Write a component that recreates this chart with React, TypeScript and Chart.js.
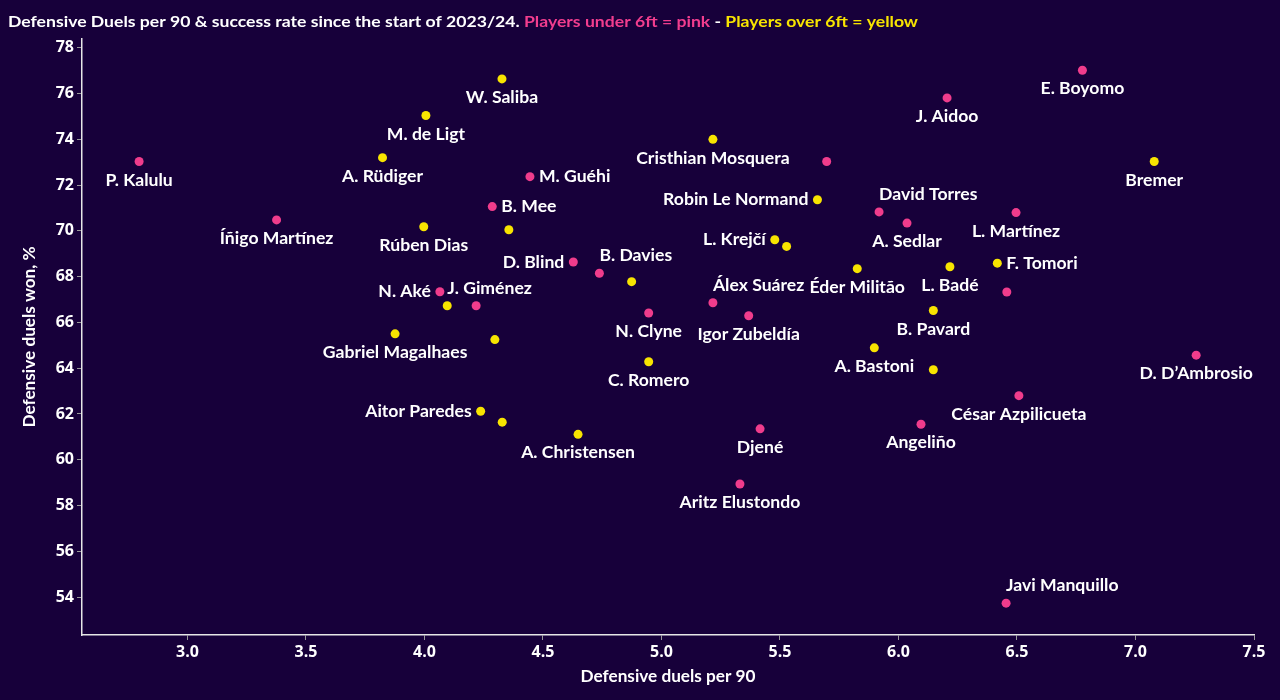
import React, { useEffect, useRef } from "react";
import { Chart, registerables } from "chart.js";

Chart.register(...registerables);

// ---- Data ----
const pinkNames = [
  "P. Kalulu", "Íñigo Martínez", "M. Guéhi", "B. Mee", "D. Blind", "B. Davies",
  "N. Aké", "", "N. Clyne", "Álex Suárez", "Igor Zubeldía", "",
  "David Torres", "A. Sedlar", "L. Martínez", "J. Aidoo", "E. Boyomo", "",
  "D. D’Ambrosio", "César Azpilicueta", "Angeliño", "Djené", "Aritz Elustondo", "Javi Manquillo",
];
const pinkDuels = [
  2.796, 3.376, 4.445, 4.286, 4.628, 4.738,
  4.065, 4.218, 4.946, 5.217, 5.368, 5.697,
  5.918, 6.036, 6.496, 6.205, 6.776, 6.457,
  7.256, 6.508, 6.095, 5.416, 5.331, 6.454,
];
const pinkWon = [
  73.03, 70.48, 72.37, 71.06, 68.64, 68.15,
  67.34, 66.73, 66.41, 66.86, 66.29, 73.03,
  70.83, 70.34, 70.8, 75.81, 77.02, 67.33,
  64.57, 62.8, 61.55, 61.35, 58.94, 53.73,
];
const pinkAnchor = [
  "b", "b", "r", "r", "l", "ar",
  "l", "", "b", "ar", "b", "",
  "ar", "b", "b", "b", "b", "",
  "b", "b", "b", "b", "b", "ar",
];

const yellowNames = [
  "W. Saliba", "M. de Ligt", "A. Rüdiger", "Rúben Dias", "", "J. Giménez",
  "Gabriel Magalhaes", "", "C. Romero", "Aitor Paredes", "", "A. Christensen",
  "Cristhian Mosquera", "Robin Le Normand", "L. Krejčí", "", "", "Éder Militão",
  "L. Badé", "F. Tomori", "Bremer", "B. Pavard", "A. Bastoni", "",
];
const yellowDuels = [
  4.327, 4.006, 3.823, 3.997, 4.356, 4.096,
  3.876, 4.297, 4.946, 4.237, 4.328, 4.648,
  5.217, 5.658, 5.478, 5.528, 4.874, 5.826,
  6.217, 6.417, 7.079, 6.147, 5.898, 6.147,
];
const yellowWon = [
  76.64, 75.04, 73.2, 70.18, 70.05, 66.73,
  65.5, 65.25, 64.28, 62.12, 61.64, 61.11,
  74.0, 71.36, 69.61, 69.32, 67.78, 68.35,
  68.43, 68.59, 73.03, 66.52, 64.89, 63.93,
];
const yellowAnchor = [
  "b", "b", "b", "b", "", "ar",
  "b", "", "b", "l", "", "b",
  "b", "l", "l", "", "", "b",
  "b", "r", "b", "b", "b", "",
];

const titleParts = [
  { text: "Defensive Duels per 90 & success rate since the start of 2023/24. ", color: "#ffffff" },
  { text: "Players under 6ft = pink", color: "#f23d8e" },
  { text: " - ", color: "#ffffff" },
  { text: "Players over 6ft = yellow", color: "#f8e400" },
];
const xAxisTitle = "Defensive duels per 90";
const yAxisTitle = "Defensive duels won, %";

const BG = "#17003a";
const PINK = "#f03c8c";
const YELLOW = "#f8e400";
const FONT = "Lato, 'Open Sans', sans-serif";
const TITLE_WIDTH = 910;

const labelPlugin = {
  id: "pointLabels",
  afterDatasetsDraw(chart: any) {
    const ctx = chart.ctx;
    ctx.save();
    ctx.font = `bold 17.6px ${FONT}`;
    ctx.fillStyle = "#ffffff";
    ctx.textBaseline = "middle";
    chart.data.datasets.forEach((ds: any, di: number) => {
      const meta = chart.getDatasetMeta(di);
      meta.data.forEach((el: any, i: number) => {
        const name = ds.names[i];
        const a = ds.anchors[i];
        if (!name || !a) return;
        const { x, y } = el.getProps(["x", "y"], true);
        if (a === "b") {
          ctx.textAlign = "center";
          ctx.fillText(name, x, y + 18.5);
        } else if (a === "ar") {
          ctx.textAlign = "left";
          ctx.fillText(name, x, y - 17.5);
        } else if (a === "r") {
          ctx.textAlign = "left";
          ctx.fillText(name, x + 9, y);
        } else if (a === "l") {
          ctx.textAlign = "right";
          ctx.fillText(name, x - 9, y);
        }
      });
    });
    ctx.restore();
  },
};

const decorPlugin = {
  id: "decor",
  beforeDraw(chart: any) {
    const ctx = chart.ctx;
    ctx.save();
    ctx.fillStyle = BG;
    ctx.fillRect(0, 0, chart.width, chart.height);
    ctx.restore();
  },
  afterDraw(chart: any) {
    const ctx = chart.ctx;
    const area = chart.chartArea;
    ctx.save();
    // title, stretched horizontally to the reference width
    ctx.font = `bold 15.5px ${FONT}`;
    ctx.textBaseline = "alphabetic";
    ctx.textAlign = "left";
    const total = titleParts.reduce((s, p) => s + ctx.measureText(p.text).width, 0);
    ctx.save();
    ctx.translate(8, 26.5);
    ctx.scale(TITLE_WIDTH / total, 1);
    let x = 0;
    titleParts.forEach((p) => {
      ctx.fillStyle = p.color;
      ctx.fillText(p.text, x, 0);
      x += ctx.measureText(p.text).width;
    });
    ctx.restore();
    // axis titles
    ctx.fillStyle = "#ffffff";
    ctx.font = `bold 17.2px ${FONT}`;
    ctx.textAlign = "center";
    ctx.textBaseline = "middle";
    ctx.fillText(xAxisTitle, (area.left + area.right) / 2, 676);
    ctx.translate(29, (area.top + area.bottom) / 2);
    ctx.rotate(-Math.PI / 2);
    ctx.fillText(yAxisTitle, 0, 0);
    ctx.restore();
  },
};

export default function App() {
  const ref = useRef<HTMLCanvasElement | null>(null);
  useEffect(() => {
    document.body.style.margin = "0";
    document.body.style.background = BG;
    const canvas = ref.current!;
    const chart = new Chart(canvas, {
      type: "scatter",
      data: {
        datasets: [
          {
            label: "Under 6ft",
            data: pinkDuels.map((v, i) => ({ x: v, y: pinkWon[i] })),
            backgroundColor: PINK,
            borderWidth: 0,
            pointRadius: 4.5,
            pointHoverRadius: 4.5,
            names: pinkNames,
            anchors: pinkAnchor,
          } as any,
          {
            label: "Over 6ft",
            data: yellowDuels.map((v, i) => ({ x: v, y: yellowWon[i] })),
            backgroundColor: YELLOW,
            borderWidth: 0,
            pointRadius: 4.5,
            pointHoverRadius: 4.5,
            names: yellowNames,
            anchors: yellowAnchor,
          } as any,
        ],
      },
      options: {
        responsive: false,
        animation: false,
        devicePixelRatio: 1,
        layout: { padding: { top: 39, right: 26, left: 0, bottom: 0 } },
        plugins: {
          legend: { display: false },
          tooltip: { enabled: false },
          title: { display: false },
        },
        scales: {
          x: {
            type: "linear",
            min: 2.555,
            max: 7.5,
            afterFit: (s: any) => { s.height = 65; },
            border: { display: true, color: "#e6e6e6", width: 1.5 },
            grid: { display: true, drawOnChartArea: false, drawTicks: true, tickLength: 5, color: "#9a9a9a" },
            ticks: {
              stepSize: 0.5,
              includeBounds: false,
              color: "#ffffff",
              font: { family: "'Open Sans', Lato, sans-serif", size: 16, weight: "bold" },
              padding: 3,
              maxRotation: 0,
              callback: (v: any) => Number(v).toFixed(1),
            },
          },
          y: {
            type: "linear",
            min: 52.34,
            max: 78.385,
            afterFit: (s: any) => { s.width = 82; },
            border: { display: true, color: "#e6e6e6", width: 1.5 },
            grid: { display: true, drawOnChartArea: false, drawTicks: true, tickLength: 5, color: "#9a9a9a" },
            ticks: {
              stepSize: 2,
              includeBounds: false,
              color: "#ffffff",
              font: { family: "'Open Sans', Lato, sans-serif", size: 16, weight: "bold" },
              padding: 3,
              callback: (v: any) => String(Math.round(Number(v))),
            },
          },
        },
      },
      plugins: [decorPlugin, labelPlugin],
    });
    return () => chart.destroy();
  }, []);
  return (
    <div style={{ position: "absolute", left: 0, top: 0, width: 1280, height: 700, background: BG }}>
      <canvas ref={ref} width={1280} height={700} style={{ display: "block" }} />
    </div>
  );
}
